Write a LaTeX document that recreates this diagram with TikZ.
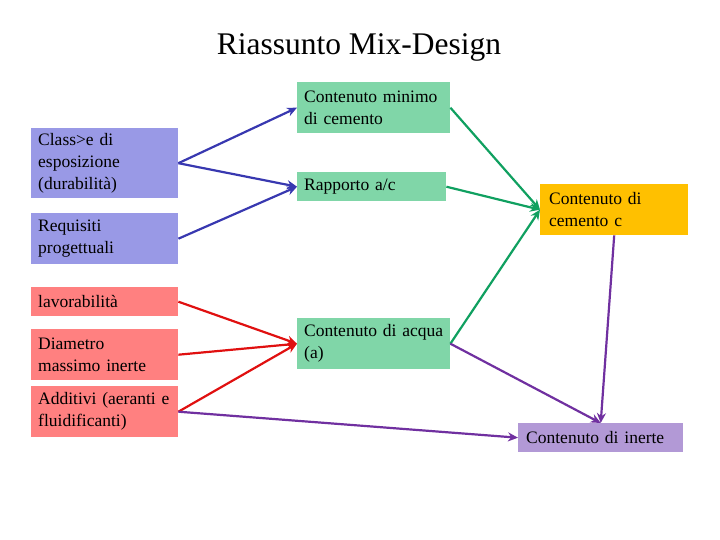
\documentclass[tikz,border=0pt]{standalone}
\usepackage{fontspec}
\setmainfont{Liberation Serif}
\usetikzlibrary{arrows.meta}

\definecolor{boxblue}{RGB}{153,153,230}
\definecolor{boxred}{RGB}{255,128,128}
\definecolor{boxgreen}{RGB}{128,214,168}
\definecolor{boxorange}{RGB}{255,192,0}
\definecolor{boxlilac}{RGB}{178,153,214}
\definecolor{lineblue}{RGB}{56,56,176}
\definecolor{linered}{RGB}{224,16,16}
\definecolor{linegreen}{RGB}{16,160,96}
\definecolor{linepurple}{RGB}{112,48,160}

\tikzset{
  box/.style={rectangle, anchor=north west, inner xsep=7pt, inner ysep=0pt,
    align=left, font=\fontsize{17.5}{22}\selectfont},
  link/.style={line width=2.2pt, -{Stealth[length=10pt,width=9pt]}}
}

\begin{document}
\begin{tikzpicture}[x=1pt,y=-1pt]
        \useasboundingbox (0,0) rectangle (720,540);
        \node[font=\fontsize{31.5}{36}\selectfont] (title) at (359,47) {Riassunto Mix-Design};

        % input boxes
        \node[box, fill=boxblue, text width=133pt, minimum height=70pt] (cls) at (31,128) {Class>e di\\esposizione\\(durabilità)};
        \node[box, fill=boxblue, text width=133pt, minimum height=51pt] (req) at (31,213) {Requisiti\\progettuali};
        \node[box, fill=boxred, text width=133pt, minimum height=29pt] (lav) at (31,287) {lavorabilità};
        \node[box, fill=boxred, text width=133pt, minimum height=51pt] (dmax) at (31,329) {Diametro\\massimo inerte};
        \node[box, fill=boxred, text width=133pt, minimum height=51pt] (add) at (31,386) {Additivi (aeranti e\\fluidificanti)};

        % middle boxes
        \node[box, fill=boxgreen, text width=139pt, minimum height=51pt] (cmin) at (297,82) {Contenuto minimo\\di cemento};
        \node[box, fill=boxgreen, text width=135pt, minimum height=29pt] (ac) at (297,172) {Rapporto a/c};
        \node[box, fill=boxgreen, text width=139pt, minimum height=51pt] (acqua) at (297,318) {Contenuto di acqua\\(a)};

        % results
        \node[box, fill=boxorange, inner xsep=9pt, text width=130pt, minimum height=51pt] (cem) at (540,184) {Contenuto di\\cemento c};
        \node[box, fill=boxlilac, inner xsep=8pt, text width=149pt, minimum height=29pt] (inerte) at (518,423) {Contenuto di inerte};

        \draw[link, lineblue] (cls.east) -- (cmin.west);
        \draw[link, lineblue] (cls.east) -- (ac.west);
        \draw[link, lineblue] (req.east) -- (ac.west);

        \draw[link, linered] (lav.east) -- (acqua.west);
        \draw[link, linered] (dmax.east) -- (acqua.west);
        \draw[link, linered] (add.east) -- (acqua.west);

        \draw[link, linegreen] (cmin.east) -- (cem.west);
        \draw[link, linegreen] (ac.east) -- (cem.west);
        \draw[link, linegreen] (acqua.east) -- (cem.west);

        \draw[link, linepurple] (add.east) -- (inerte.west);
        \draw[link, linepurple] (acqua.east) -- (inerte.north);
        \draw[link, linepurple] (cem.south) -- (inerte.north);
    \end{tikzpicture}
\end{document}
